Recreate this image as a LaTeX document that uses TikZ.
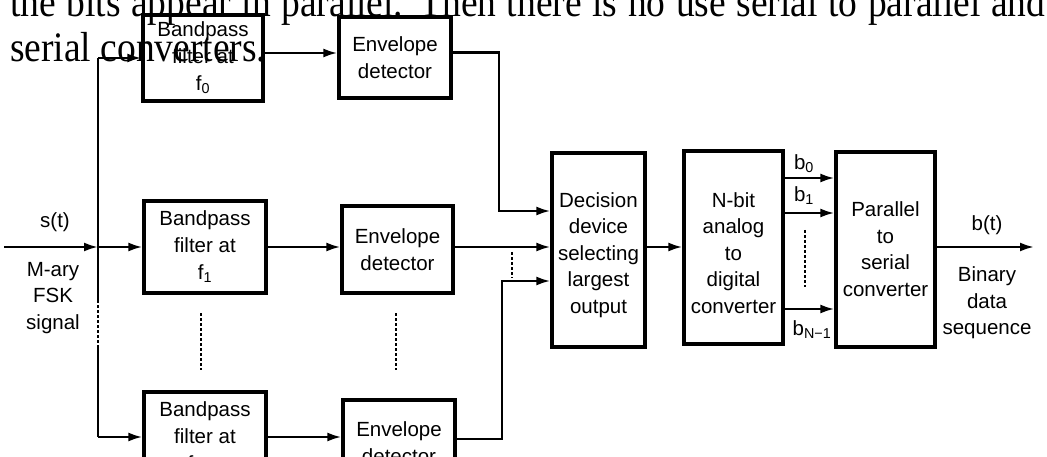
\documentclass[tikz,border=0pt]{standalone}
\usepackage{fontspec}
\setmainfont{Liberation Serif}
\newfontfamily\diagfont{Liberation Sans}
\usetikzlibrary{arrows.meta}
\begin{document}
\begin{tikzpicture}[x=1pt,y=-1pt,
  box/.style={draw,line width=3.2pt,inner sep=0pt,align=center,
    font=\diagfont\fontsize{20.5}{27}\selectfont},
  btxt/.style={inner sep=0pt,align=center,font=\diagfont\fontsize{20.5}{26.5}\selectfont},
  lbl/.style={inner sep=0pt,align=center,font=\diagfont\fontsize{20.5}{26.5}\selectfont},
  conn/.style={line width=2.4pt},
  arr/.style={conn,-{Latex[length=14pt,width=9pt]}},
  dsh/.style={line width=2.4pt,dash pattern=on 3pt off 2pt},
  toptext/.style={inner sep=0pt,anchor=base west,font=\fontsize{37.5}{45}\selectfont}]
\useasboundingbox (0,0) rectangle (1047,457);
\clip (0,0) rectangle (1047,457);
% boxes
\node[box,minimum width=120pt,minimum height=86pt] (bpf0) at (203,58) {Bandpass\\filter at\\f\textsubscript{0}};
\node[box,minimum width=112pt,minimum height=81pt] (env0) at (395,57.5) {Envelope\\detector};
\node[box,minimum width=122pt,minimum height=92pt] (bpf1) at (205,247) {Bandpass\\filter at\\f\textsubscript{1}};
\node[box,minimum width=111pt,minimum height=87pt] (env1) at (397.5,249.5) {Envelope\\detector};
\node[box,minimum width=122pt,minimum height=92pt] (bpfM) at (205,438) {Bandpass\\filter at\\f\textsubscript{M−1}};
\node[box,minimum width=112pt,minimum height=86pt] (envM) at (399,443) {Envelope\\detector};
\node[box,minimum width=93pt,minimum height=194pt] (dec) at (598.5,250) {};
\node[box,minimum width=99pt,minimum height=193pt] (adc) at (733.5,247.5) {};
\node[box,minimum width=99pt,minimum height=195pt] (ps) at (885.5,249.5) {};
\node[btxt] (dect) at (598.5,255) {Decision\\device\\selecting\\largest\\output};
\node[btxt] (adct) at (733.5,253) {N-bit\\analog\\to\\digital\\converter};
\node[btxt] (pst) at (885.5,249) {Parallel\\to\\serial\\converter};
% coordinates
\coordinate (in) at (4,247);
\coordinate (bustop) at (98,58);
\coordinate (busmid) at (98,247);
\coordinate (busd1) at (98,300);
\coordinate (busd2) at (98,345);
\coordinate (busbot) at (98,437);
\coordinate (j0) at (499,211);
\coordinate (jM) at (502,281);
\coordinate (yb0) at (0,178);
\coordinate (yb1) at (0,213);
\coordinate (ybN) at (0,309);
\coordinate (out) at (1034,247);
\coordinate (d1a) at (201,313); \coordinate (d1b) at (201,370);
\coordinate (d2a) at (396,313); \coordinate (d2b) at (396,370);
\coordinate (d3a) at (512,252); \coordinate (d3b) at (512,278);
\coordinate (d4a) at (805,230); \coordinate (d4b) at (805,287);
% connectors
\draw[arr] (in) -- (busmid);
\draw[conn] (bustop) -- (busd1);
\draw[dsh] (busd1) -- (busd2);
\draw[conn] (busd2) -- (busbot);
\draw[arr] (bustop) -- (bpf0.west |- bustop);
\draw[arr] (busmid) -- (bpf1.west |- busmid);
\draw[arr] (busbot) -- (bpfM.west |- busbot);
\draw[arr] ([yshift=5pt]bpf0.east) -- ([yshift=5pt]bpf0.east -| env0.west);
\draw[arr] (bpf1.east |- busmid) -- (env1.west |- busmid);
\draw[arr] (bpfM.east |- busbot) -- (envM.west |- busbot);
\draw[arr] ([yshift=5pt]env0.east) -| (j0) -- (dec.west |- j0);
\draw[arr] (env1.east |- busmid) -- (dec.west |- busmid);
\draw[arr] ([yshift=4pt]envM.east) -| (jM) -- (dec.west |- jM);
\draw[arr] (dec.east |- busmid) -- (adc.west |- busmid);
\draw[arr] (adc.east |- yb0) -- (ps.west |- yb0);
\draw[arr] (adc.east |- yb1) -- (ps.west |- yb1);
\draw[arr] (adc.east |- ybN) -- (ps.west |- ybN);
\draw[arr] (ps.east |- busmid) -- (out);
\draw[dsh] (d1a) -- (d1b);
\draw[dsh] (d2a) -- (d2b);
\draw[dsh] (d3a) -- (d3b);
\draw[dsh] (d4a) -- (d4b);
% labels
\node[lbl] (st) at (55,222) {s(t)};
\node[lbl] (mary) at (53,298) {M-ary\\FSK\\signal};
\node[lbl] (lb0) at (804,164) {b\textsubscript{0}};
\node[lbl] (lb1) at (804,196) {b\textsubscript{1}};
\node[lbl] (lbN) at (812,330) {b\textsubscript{N−1}};
\node[lbl] (bt) at (987,225) {b(t)};
\node[lbl] (bin) at (987,303) {Binary\\data\\sequence};
% overlaid text
\node[toptext] (t1) at (10,17) {\scalebox{1}[1.12]{\makebox[1035pt][s]{the bits appear in parallel. Then there is no use serial to parallel and}}};
\node[toptext] (t2) at (10,62) {\scalebox{1}[1.12]{serial converters.}};
\end{tikzpicture}
\end{document}
